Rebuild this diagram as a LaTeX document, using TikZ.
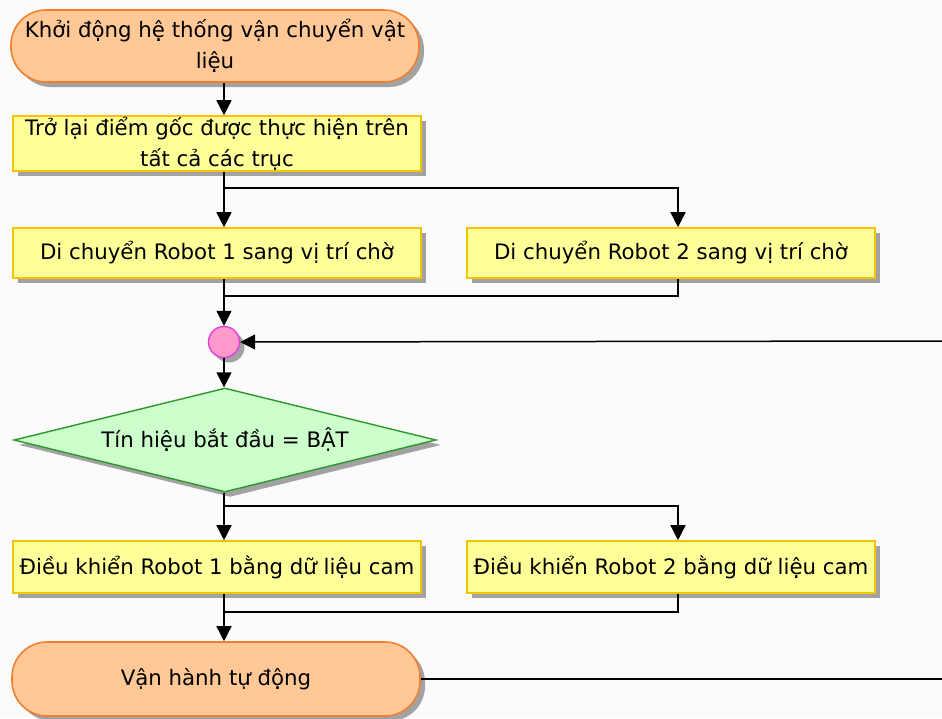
\documentclass[tikz,border=0pt]{standalone}
\usepackage{fontspec}
\setmainfont{DejaVu Sans}
\usetikzlibrary{arrows.meta,shapes.geometric,shadows}
\definecolor{bg}{HTML}{FBFBFB}
\definecolor{termfill}{HTML}{FFC896}
\definecolor{termdraw}{HTML}{F08030}
\definecolor{procfill}{HTML}{FFFF99}
\definecolor{procdraw}{HTML}{F5C400}
\definecolor{decfill}{HTML}{CCFFCC}
\definecolor{decdraw}{HTML}{2E962E}
\definecolor{juncfill}{HTML}{FF99CC}
\definecolor{juncdraw}{HTML}{E040E0}
\begin{document}
\begin{tikzpicture}[x=1pt,y=-1pt,
  font=\fontsize{21.3}{31}\selectfont,
  shade/.style={drop shadow={shadow xshift=5pt,shadow yshift=-5pt,fill=black!45,opacity=0.8}},
  term/.style={rectangle,rounded corners=35pt,fill=termfill,draw=termdraw,line width=1.6pt,shade,minimum width=408pt,minimum height=72pt,align=center,inner sep=0pt},
  proc/.style={rectangle,fill=procfill,draw=procdraw,line width=1.6pt,shade,minimum width=408pt,align=center,inner sep=0pt},
  dec/.style={diamond,fill=decfill,draw=decdraw,line width=1.4pt,shade,minimum width=422pt,minimum height=104pt,aspect=4.06,inner sep=0pt},
  junc/.style={circle,fill=juncfill,draw=juncdraw,line width=1.4pt,shade,minimum size=31pt,inner sep=0pt},
  conn/.style={line width=1.5pt,draw=black},
  arr/.style={conn,-{Triangle[length=15pt,width=15pt]}}
]
\fill[bg] (0,0) rectangle (942,718);
\useasboundingbox (0,0) rectangle (942,718);

\coordinate (ca) at (224,0);
\coordinate (cb) at (678,0);
\coordinate (b1) at (678,188);
\coordinate (m1) at (224,296);
\coordinate (b2) at (678,506);
\coordinate (m2) at (224,612);
\coordinate (edgeL) at (942,341);
\coordinate (edgeR) at (942,679);

\node[term] (start) at (215,46) {Khởi động hệ thống vận chuyển vật\\liệu};
\node[proc,minimum height=55pt] (home) at (217,143.5) {Trở lại điểm gốc được thực hiện trên\\tất cả các trục};
\node[proc,minimum height=50pt] (r1) at (217,253) {Di chuyển Robot 1 sang vị trí chờ};
\node[proc,minimum height=50pt] (r2) at (671,253) {Di chuyển Robot 2 sang vị trí chờ};
\node[junc] (j) at (224,342) {};
\node[dec] (d) at (225,440) {Tín hiệu bắt đầu = BẬT};
\node[proc,minimum height=52pt] (c1) at (217,567) {Điều khiển Robot 1 bằng dữ liệu cam};
\node[proc,minimum height=52pt] (c2) at (671,567) {Điều khiển Robot 2 bằng dữ liệu cam};
\node[term,minimum height=74pt] (run) at (216,679) {Vận hành tự động};

\draw[arr] (start.south -| ca) -- (home.north -| ca);
\draw[arr] (home.south -| ca) -- (r1.north -| ca);
\draw[arr] (home.south -| ca) |- (b1) -- (r2.north -| b1);
\draw[arr] (r1.south -| ca) -- (j.north);
\draw[conn] (r2.south -| cb) |- (m1);
\draw[arr] (edgeL) -- (j.east);
\draw[arr] (j.south) -- (d.north -| j.south);
\draw[arr] (d.south -| ca) -- (c1.north -| ca);
\draw[arr] (d.south -| ca) |- (b2) -- (c2.north -| b2);
\draw[arr] (c1.south -| ca) -- (run.north -| ca);
\draw[conn] (c2.south -| cb) |- (m2);
\draw[conn] (run.east) -- (edgeR);
\end{tikzpicture}
\end{document}
